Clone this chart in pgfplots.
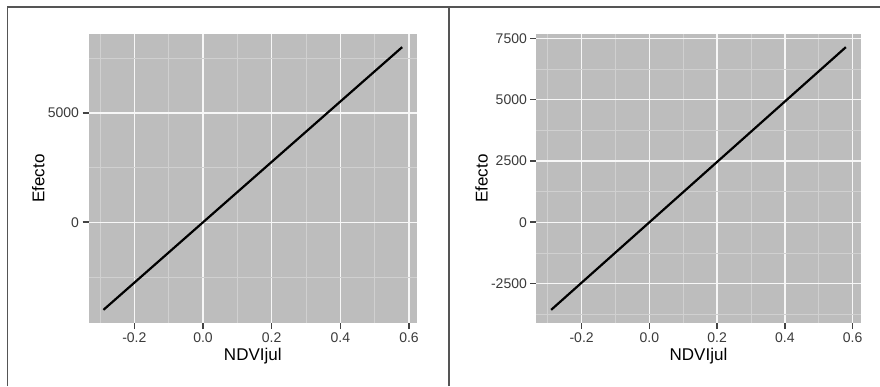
\documentclass[border=0pt]{standalone}
\usepackage{pgfplots}
\pgfplotsset{compat=1.18}
\usepackage{fontspec}
\setmainfont{Liberation Sans}
\definecolor{panelgray}{HTML}{BDBDBD}
\definecolor{minorgrid}{HTML}{D0D0D0}
\definecolor{majorgrid}{HTML}{F7F7F7}
\definecolor{ticktext}{HTML}{3A3A3A}
\definecolor{tickmark}{HTML}{444444}
\definecolor{framecol}{HTML}{555555}
\pgfplotsset{
  ggstyle/.style={
    scale only axis,
    height=289pt,
    axis background/.style={fill=panelgray},
    axis line style={draw=none},
    xtick pos=lower, ytick pos=left,
    tick align=outside,
    major tick length=6pt,
    minor tick length=0pt,
    major tick style={line width=1.6pt, color=tickmark},
    grid=both,
    major grid style={line width=1.5pt, color=majorgrid},
    minor grid style={line width=0.8pt, color=minorgrid},
    /pgf/number format/assume math mode=true,
    tick label style={font=\fontsize{14}{16}\selectfont, text=ticktext},
    label style={font=\fontsize{17}{20}\selectfont, text=black},
    xmin=-0.3335, xmax=0.6235,
    xtick={-0.2,0,0.2,0.4,0.6},
    xticklabels={-0.2,0.0,0.2,0.4,0.6},
    minor xtick={-0.3,-0.1,0.1,0.3,0.5},
    xlabel={NDVIjul},
    ylabel={Efecto},
    xlabel style={at={(axis description cs:0.5,-0.114)}, anchor=center},
    clip=false,
  }
}
\begin{document}
\begin{tikzpicture}
\path[use as bounding box] (0pt,0pt) rectangle (880pt,386pt);
% left panel
\begin{axis}[ggstyle,
  at={(88.5pt,63pt)}, anchor=south west,
  width=328.6pt,
  ymin=-4600, ymax=8600,
  ytick={0,5000}, yticklabels={0,5000},
  minor ytick={-2500,2500,7500},
  ylabel style={at={(axis description cs:-0.153,0.5)}, anchor=center},
]
\addplot[black, line width=2.2pt] coordinates {(-0.29,-4000) (0.58,8000)};
\end{axis}
% right panel
\begin{axis}[ggstyle,
  at={(536.4pt,63pt)}, anchor=south west,
  width=324.2pt,
  ymin=-4106, ymax=7676,
  ytick={-2500,0,2500,5000,7500}, yticklabels={-2500,0,2500,5000,7500},
  minor ytick={-3750,-1250,1250,3750,6250},
  ylabel style={at={(axis description cs:-0.169,0.5)}, anchor=center},
]
\addplot[black, line width=2.2pt] coordinates {(-0.29,-3570) (0.58,7140)};
\end{axis}
% frame lines
\draw[line width=1.5pt, color=framecol] (7.5pt,0pt) -- (7.5pt,379pt) -- (880pt,379pt);
\draw[line width=1.5pt, color=framecol] (449pt,0pt) -- (449pt,379pt);
\end{tikzpicture}
\end{document}
